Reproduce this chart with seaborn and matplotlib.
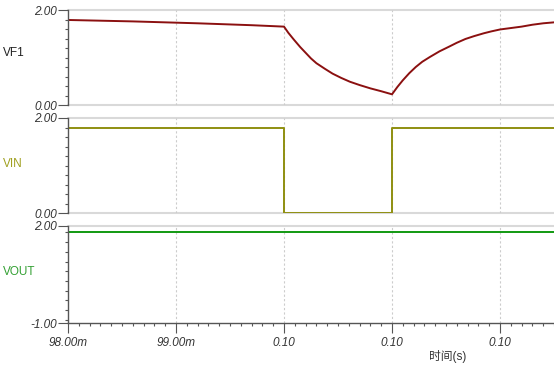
import numpy as np
import pandas as pd
import seaborn as sns
import matplotlib
matplotlib.use("Agg")
import matplotlib.pyplot as plt
from matplotlib.ticker import MultipleLocator

sns.set_theme(style="white")
plt.rcParams['font.family'] = ['Liberation Sans', 'Noto Sans CJK SC', 'DejaVu Sans']

# ---- data (time in ms) ----
vf1_t = [98.0, 98.6, 99.2, 99.7, 100.0, 100.04, 100.09, 100.15, 100.2, 100.25, 100.3, 100.38,
         100.45, 100.53, 100.61, 100.7, 100.8, 100.9, 101.0,
         101.05, 101.1, 101.16, 101.22, 101.28, 101.35, 101.44, 101.53, 101.6, 101.68, 101.76,
         101.85, 101.92, 102.0, 102.1, 102.2, 102.3, 102.4, 102.5]
vf1_v = [1.79, 1.76, 1.72, 1.68, 1.65, 1.52, 1.38, 1.22, 1.10, 0.98, 0.88, 0.76,
         0.66, 0.57, 0.49, 0.42, 0.35, 0.29, 0.225,
         0.38, 0.52, 0.67, 0.80, 0.91, 1.01, 1.13, 1.23, 1.31, 1.39, 1.45,
         1.51, 1.55, 1.59, 1.62, 1.65, 1.69, 1.72, 1.74]
vin_t = [98.0, 100.0, 100.0, 101.0, 101.0, 102.5]
vin_v = [1.80, 1.80, 0.0, 0.0, 1.80, 1.80]
vout_t = [98.0, 102.5]
vout_v = [1.80, 1.80]

x_ticks = [98, 99, 100, 101, 102]
x_labels = ["98.00m", "99.00m", "0.10", "0.10", "0.10"]
x_title = "时间(s)"

panels = [
    dict(name="VF1", t=vf1_t, v=vf1_v, color="#8b1010", tcolor="#222222", ylim=(0, 2),
         yt=["0.00", "2.00"], ly=0.55),
    dict(name="VIN", t=vin_t, v=vin_v, color="#8f8f10", tcolor="#a0a020", ylim=(0, 2),
         yt=["0.00", "2.00"], ly=0.52),
    dict(name="VOUT", t=vout_t, v=vout_v, color="#119911", tcolor="#33a033", ylim=(-1, 2),
         yt=["-1.00", "2.00"], ly=0.53),
]

W, H = 554, 365
fig = plt.figure(figsize=(W / 100, H / 100), dpi=100)
rects = [(10, 105), (118, 213), (226, 323)]
left = 68
xmin, xmax = 98.0, 98.0 + (W - left) / 108.0

tick_font = dict(fontsize=8.5, style="italic", color="#333333")
for i, (p, (top, bot)) in enumerate(zip(panels, rects)):
    ax = fig.add_axes([left / W, (H - bot) / H, (W - left) / W, (bot - top) / H])
    df = pd.DataFrame({"t": p["t"], "v": p["v"]})
    sns.lineplot(data=df, x="t", y="v", ax=ax, color=p["color"], linewidth=1.4,
                 estimator=None, sort=False)
    ax.set_xlim(xmin, xmax)
    ax.set_ylim(*p["ylim"])
    ax.set_xlabel("")
    ax.set_ylabel("")
    for s in ["top", "right", "bottom"]:
        ax.spines[s].set_visible(False)
    ax.spines["left"].set_color("#555555")
    ax.spines["left"].set_linewidth(1.0)
    for yv in p["ylim"]:
        if i == 2 and yv == p["ylim"][0]:
            continue
        ax.axhline(yv, color="#d9d9d9", linewidth=1.5, zorder=0, clip_on=False)
    for xv in x_ticks[1:]:
        ax.axvline(xv, color="#cccccc", linewidth=0.8, linestyle=(0, (2, 2)), zorder=0)
    ax.set_yticks(list(p["ylim"]))
    ax.set_yticklabels(p["yt"], **tick_font)
    ax.yaxis.set_minor_locator(MultipleLocator((p["ylim"][1] - p["ylim"][0]) / 10))
    ax.tick_params(axis="y", which="major", length=7, width=0.8, color="#555555", pad=1, left=True)
    ax.tick_params(axis="y", which="minor", length=2.2, width=0.8, color="#555555", left=True)
    ax.text(-left / (W - left) + 3 / (W - left), p["ly"], p["name"], transform=ax.transAxes,
            ha="left", va="center", fontsize=8.5, color=p["tcolor"])
    if i < 2:
        ax.set_xticks([])
        ax.tick_params(axis="x", which="both", bottom=False, labelbottom=False)
    else:
        ax.spines["bottom"].set_visible(True)
        ax.spines["bottom"].set_color("#555555")
        ax.spines["bottom"].set_linewidth(1.0)
        ax.set_xticks(x_ticks)
        ax.set_xticklabels(x_labels, **tick_font)
        ax.xaxis.set_minor_locator(MultipleLocator(0.1))
        ax.tick_params(axis="x", which="major", length=7, width=0.8, color="#555555",
                       bottom=True, pad=3)
        ax.tick_params(axis="x", which="minor", length=2.2, width=0.8, color="#555555",
                       bottom=True)
        ax.text((448 - left) / (W - left), -0.35, x_title, transform=ax.transAxes,
                ha="center", va="center", fontsize=8.5, color="#333333")

fig.savefig("out.png", dpi=100)
